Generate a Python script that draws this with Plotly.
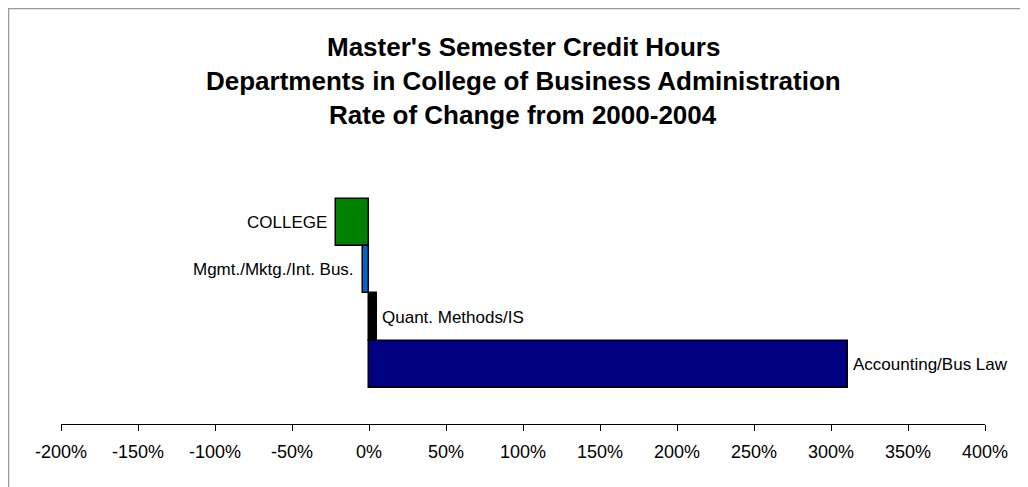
import plotly.graph_objects as go

# Data
categories = ["COLLEGE", "Mgmt./Mktg./Int. Bus.", "Quant. Methods/IS", "Accounting/Bus Law"]
rate_change = [-21.5, -4.2, 5.3, 311.0]
bar_colors = ["#008000", "#0066CC", "#000000", "#000080"]
tick_values = [-200, -150, -100, -50, 0, 50, 100, 150, 200, 250, 300, 350, 400]
tick_labels = ["-200%", "-150%", "-100%", "-50%", "0%", "50%", "100%", "150%",
               "200%", "250%", "300%", "350%", "400%"]
title_lines = ["Master's Semester Credit Hours",
               "Departments in College of Business Administration",
               "Rate of Change from 2000-2004"]

FONT = "Arial, 'Liberation Sans', sans-serif"

# figure is drawn 8px in from the page edge (body margin)
W, H = 1020, 479
ML, MR, MT, MB = 53, 43, 142, 63
PW, PH = W - ML - MR, H - MT - MB

fig = go.Figure()
fig.add_trace(go.Bar(
    x=rate_change,
    y=categories,
    orientation="h",
    marker=dict(color=bar_colors, line=dict(color="#000000", width=1.5)),
    width=1,
    hoverinfo="x+y",
))

annotations = []
# data labels
for cat, val in zip(categories, rate_change):
    if val < 0:
        annotations.append(dict(x=val, y=cat, xref="x", yref="y",
                                text=cat, showarrow=False, xanchor="right", yanchor="middle",
                                xshift=-7, font=dict(family=FONT, size=17, color="#000000")))
    else:
        annotations.append(dict(x=val, y=cat, xref="x", yref="y",
                                text=cat, showarrow=False, xanchor="left", yanchor="middle",
                                xshift=3, font=dict(family=FONT, size=17, color="#000000")))

# title lines (page y centers 47, 81, 115)
for line, py in zip(title_lines, [47, 81, 115]):
    fy = py - 8
    annotations.append(dict(x=0.5, y=(H - MB - fy) / PH, xref="paper", yref="paper",
                            text="<b>%s</b>" % line,
                            showarrow=False, xanchor="center", yanchor="middle",
                            font=dict(family=FONT, size=26, color="#000000")))

fig.update_layout(
    width=W, height=H,
    margin=dict(l=ML, r=MR, t=MT, b=MB, pad=0),
    paper_bgcolor="#FFFFFF",
    plot_bgcolor="#FFFFFF",
    bargap=0,
    showlegend=False,
    annotations=annotations,
    shapes=[dict(type="rect", xref="paper", yref="paper",
                 x0=(0.5 - ML) / PW, x1=1.3, y0=-0.6, y1=(H - MB - 0.5) / PH,
                 line=dict(color="#9A9A9A", width=1.5), fillcolor="rgba(0,0,0,0)", layer="below")],
    xaxis=dict(
        range=[-200, 400],
        tickvals=tick_values,
        ticktext=tick_labels,
        showgrid=False,
        zeroline=False,
        showline=True,
        linecolor="#000000",
        linewidth=1,
        ticks="outside",
        ticklen=6,
        tickcolor="#000000",
        tickwidth=1,
        ticklabelstandoff=5,
        tickfont=dict(family=FONT, size=18, color="#000000"),
        fixedrange=True,
    ),
    yaxis=dict(
        type="category",
        categoryorder="array",
        categoryarray=categories,
        range=[4.261, -1.534],
        showticklabels=False,
        showgrid=False,
        zeroline=False,
        showline=False,
        ticks="",
        fixedrange=True,
    ),
)

fig.write_html("out.html")
